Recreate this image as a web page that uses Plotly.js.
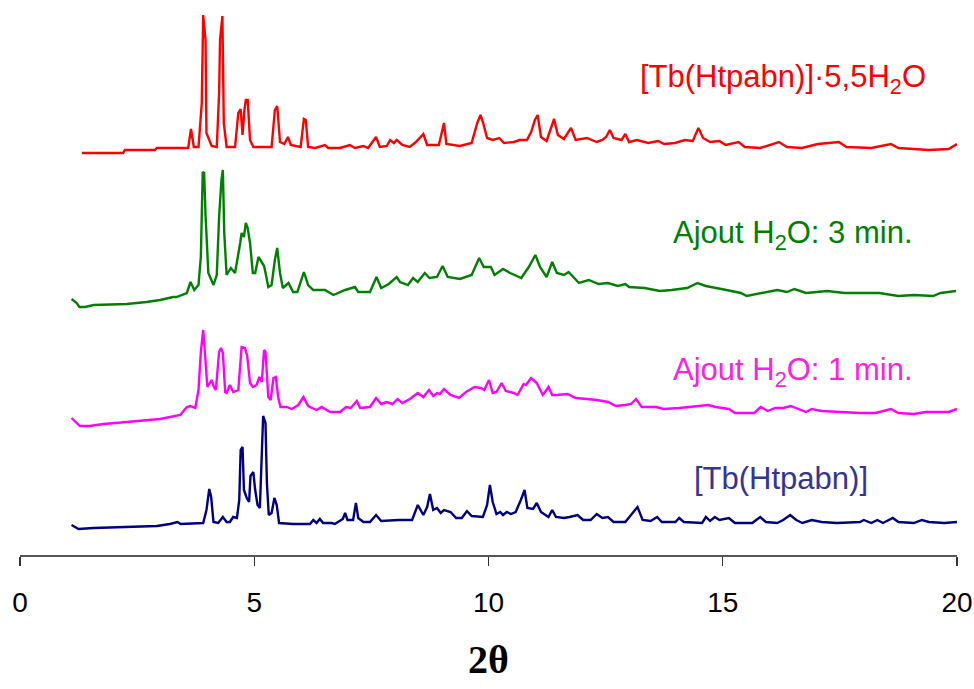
<!DOCTYPE html>
<html>
<head>
<meta charset="utf-8">
<script src="https://cdn.plot.ly/plotly-3.0.1.min.js"></script>
<style>html,body{margin:0;padding:0;background:#fff;}#chart{width:974px;height:689px;}</style>
</head>
<body>
<div id="chart"></div>
<script>
// 2θ positions and intensities (relative to each pattern's own baseline)
const hydrateX = [1.32,2.20,2.24,2.88,2.92,3.59,3.65,3.71,3.81,3.88,3.91,3.96,3.98,4.09,4.20,4.25,4.27,4.32,4.35,4.41,
  4.59,4.66,4.71,4.75,4.79,4.82,4.86,4.91,4.98,5.37,5.44,5.49,5.55,5.64,5.72,5.78,5.99,6.06,6.10,6.15,
  6.30,6.51,6.58,6.83,7.04,7.15,7.33,7.43,7.60,7.68,7.83,7.90,7.98,8.04,8.16,8.32,8.45,8.61,8.69,8.94,
  9.05,9.10,9.39,9.64,9.76,9.83,9.88,9.97,10.09,10.23,10.33,10.54,10.66,10.82,10.91,10.99,11.05,11.12,11.24,11.34,
  11.40,11.48,11.61,11.76,11.86,12.10,12.31,12.43,12.51,12.59,12.67,12.84,12.92,13.00,13.17,13.41,13.62,13.75,13.98,14.19,
  14.36,14.48,14.58,14.73,14.93,15.06,15.34,15.47,15.80,16.20,16.37,16.69,17.03,17.48,17.64,18.17,18.59,18.75,19.40,19.82,
  20.00];
const hydrateI = [-5,-5,-2,-2,0,0,19,1,1,45,133,108,15,2,1,55,108,132,25,1,
  1,35,39,13,38,48,48,8,1,1,38,42,6,4,11,3,1,29,28,1,
  0,3,0,0,3,0,2,0,11,1,2,8,5,8,3,1,6,14,3,3,
  25,4,2,5,25,33,26,10,8,10,5,6,8,8,16,28,33,11,7,21,
  29,13,9,20,8,10,6,8,11,18,10,8,14,6,8,5,7,4,5,8,
  7,20,10,6,7,3,6,1,0,6,1,0,4,6,1,0,4,0,-2,-1,
  4];

const min3X = [1.10,1.21,1.27,1.39,1.57,2.28,2.70,2.99,3.27,3.34,3.56,3.64,3.72,3.81,3.86,3.90,3.93,3.96,4.02,4.13,
  4.20,4.25,4.30,4.33,4.36,4.41,4.50,4.59,4.70,4.73,4.78,4.82,4.86,4.91,4.97,5.02,5.09,5.16,5.21,5.25,
  5.30,5.37,5.44,5.49,5.55,5.61,5.73,5.83,5.92,6.06,6.15,6.26,6.51,6.69,6.94,7.15,7.22,7.47,7.61,7.71,
  7.87,8.04,8.11,8.28,8.39,8.49,8.64,8.74,8.90,9.02,9.13,9.39,9.64,9.80,9.90,10.05,10.13,10.31,10.46,10.70,
  10.86,11.00,11.10,11.24,11.36,11.46,11.61,11.71,11.93,12.14,12.35,12.55,12.76,12.92,13.00,13.33,13.66,13.91,14.24,14.46,
  14.64,14.97,15.39,15.51,15.80,16.16,16.37,16.53,16.78,17.23,17.60,17.93,18.34,18.75,19.08,19.49,19.65,19.98];
const min3I = [1,-3,-7,-7,-5,-4,-2,0,3,3,7,18,10,15,43,128,127,85,27,15,
  25,83,120,130,67,25,32,27,57,67,63,77,72,57,27,27,43,37,34,25,
  13,15,40,52,27,12,17,8,8,28,15,10,10,5,10,13,8,8,23,12,
  16,23,18,15,22,18,27,22,23,34,23,21,25,42,33,33,25,31,27,22,
  33,45,33,23,38,27,25,28,17,20,16,17,14,16,13,12,9,10,12,17,
  14,11,7,4,7,10,8,11,7,9,7,7,7,4,5,4,7,9];

const min1X = [1.10,1.21,1.28,1.49,1.78,2.28,2.99,3.42,3.56,3.64,3.74,3.81,3.86,3.91,3.96,4.00,4.09,4.14,4.18,4.25,
  4.29,4.33,4.38,4.41,4.48,4.55,4.66,4.73,4.80,4.85,4.91,4.97,5.05,5.11,5.16,5.21,5.24,5.30,5.35,5.41,
  5.46,5.51,5.56,5.69,5.80,5.94,6.05,6.15,6.33,6.44,6.62,6.83,6.96,7.06,7.19,7.26,7.47,7.60,7.71,7.83,
  7.95,8.06,8.16,8.32,8.49,8.61,8.73,8.82,8.90,8.96,9.05,9.19,9.37,9.52,9.70,9.84,9.91,10.01,10.09,10.17,
  10.28,10.37,10.54,10.62,10.75,10.80,10.91,11.03,11.16,11.28,11.36,11.46,11.69,11.86,12.10,12.31,12.55,12.72,12.92,13.04,
  13.15,13.27,13.58,13.74,14.07,14.44,14.69,14.85,15.13,15.26,15.67,15.81,15.96,16.12,16.29,16.45,16.78,16.90,17.11,17.52,
  17.93,18.26,18.59,18.75,19.08,19.33,19.82,20.00];
const min1I = [-6,-11,-14,-14,-12,-10,-7,-3,5,6,4,22,60,82,49,25,32,25,22,60,
  64,59,20,19,27,20,22,65,64,56,29,25,27,35,30,62,60,15,12,34,
  35,15,5,5,3,7,15,6,2,5,0,0,5,4,11,4,5,14,8,10,
  8,13,9,13,19,15,22,16,19,18,23,17,14,20,25,24,22,32,19,20,
  29,21,19,17,28,27,34,29,17,25,17,17,18,14,13,12,10,6,7,8,
  13,5,5,3,4,6,7,5,3,-1,-1,5,1,4,4,6,0,3,1,0,
  -1,-1,3,-1,-2,0,0,3];

const anhydX = [1.10,1.25,1.57,2.28,2.92,3.20,3.36,3.43,3.91,3.98,4.04,4.08,4.13,4.23,4.33,4.41,4.48,4.55,4.63,4.68,
  4.71,4.75,4.78,4.84,4.89,4.92,4.98,5.02,5.07,5.12,5.16,5.19,5.24,5.27,5.31,5.37,5.43,5.48,5.53,5.83,
  6.19,6.26,6.33,6.40,6.47,6.65,6.72,6.89,6.94,6.99,7.11,7.17,7.22,7.33,7.47,7.60,7.71,8.08,8.37,8.49,
  8.61,8.69,8.75,8.82,8.90,8.98,9.05,9.19,9.31,9.43,9.54,9.64,9.88,9.97,10.03,10.09,10.17,10.25,10.31,10.39,
  10.48,10.58,10.69,10.77,10.83,10.95,11.03,11.12,11.28,11.36,11.44,11.61,11.73,11.90,12.02,12.18,12.31,12.43,12.55,12.67,
  12.92,13.08,13.18,13.29,13.46,13.60,13.70,13.99,14.07,14.17,14.56,14.64,14.73,14.83,14.93,15.13,15.26,15.63,15.80,15.92,
  16.16,16.29,16.44,16.57,16.70,16.90,17.11,17.44,17.93,18.01,18.17,18.30,18.42,18.63,18.75,19.08,19.25,19.40,19.73,20.00];
const anhydI = [-2,-6,-5,-4,-3,-1,1,-1,0,13,34,26,1,0,6,1,1,6,5,23,
  73,76,33,25,21,47,51,33,18,15,63,107,100,40,8,10,25,18,0,-1,
  -1,3,0,4,0,0,-1,4,10,3,3,20,5,1,1,8,2,3,3,18,
  8,16,29,13,15,10,13,11,5,5,12,7,6,18,38,21,9,11,8,11,
  9,11,23,33,15,14,20,11,6,13,6,5,6,8,3,3,9,5,6,1,
  1,10,16,3,2,6,1,1,5,1,0,6,2,6,3,5,0,0,6,1,
  0,3,8,3,0,3,1,0,1,3,0,3,0,5,1,0,3,1,0,1];

const seriesNames = ['[Tb(Htpabn)]·5,5H<sub>2</sub>O', 'Ajout H<sub>2</sub>O: 3 min.', 'Ajout H<sub>2</sub>O: 1 min.', '[Tb(Htpabn)]'];
const tickVals = [0, 5, 10, 15, 20];

// presentation: vertical stacking offsets, colours, label placement
const offsets = [407, 255, 143, 32];
const lineColors = ['#ff0000', '#008000', '#ff00ff', '#000080'];
const textColors = ['#ff0000', '#008000', '#ff22dd', '#333399'];
const labelPos = [[16.28, 476], [16.5, 320], [16.5, 183], [16.25, 77]];

const xs = [hydrateX, min3X, min1X, anhydX];
const is = [hydrateI, min3I, min1I, anhydI];

const traces = xs.map((x, k) => {
  const n = Math.min(x.length, is[k].length);
  return {
    type: 'scatter', mode: 'lines',
    x: x.slice(0, n),
    y: is[k].slice(0, n).map(v => v + offsets[k]),
    line: {color: lineColors[k], width: 2.4, shape: 'linear'},
    hoverinfo: 'skip', showlegend: false
  };
});

const annotations = seriesNames.map((t, k) => ({
  x: labelPos[k][0], y: labelPos[k][1], xref: 'x', yref: 'y',
  text: t, showarrow: false, xanchor: 'center', yanchor: 'middle',
  font: {family: 'Liberation Sans, Arial, sans-serif', size: 31, color: textColors[k]}
}));

const layout = {
  width: 974, height: 689,
  margin: {l: 20, r: 17, t: 0, b: 134},
  paper_bgcolor: '#ffffff', plot_bgcolor: '#ffffff',
  showlegend: false,
  xaxis: {
    range: [0, 20], tickvals: tickVals, ticktext: tickVals.map(String),
    ticks: 'outside', ticklen: 9, tickwidth: 1.2, tickcolor: '#333333',
    showline: true, linecolor: '#555555', linewidth: 2,
    showgrid: false, zeroline: false,
    ticklabelstandoff: 12,
    tickfont: {family: 'Liberation Sans, Arial, sans-serif', size: 28, color: '#000000'},
    title: {text: '<b>2θ</b>', standoff: 28,
      font: {family: 'Liberation Serif, Times New Roman, serif', size: 40, color: '#000000'}}
  },
  yaxis: {range: [0, 555], visible: false, showgrid: false, zeroline: false, fixedrange: true},
  annotations: annotations
};

Plotly.newPlot('chart', traces, layout, {displayModeBar: false, staticPlot: true});
</script>
</body>
</html>
